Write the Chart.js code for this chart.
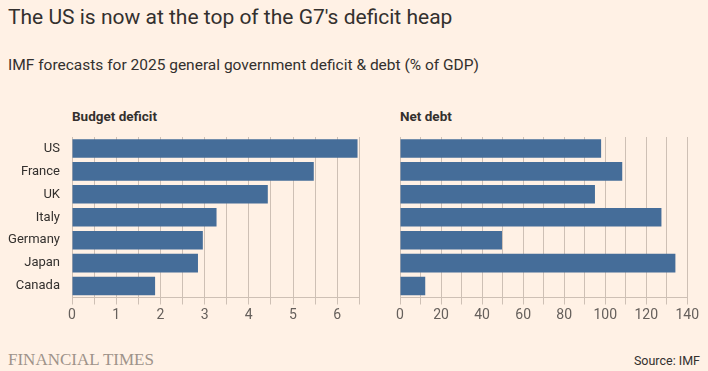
<!DOCTYPE html>
<html>
<head>
<meta charset="utf-8">
<script src="https://cdn.jsdelivr.net/npm/chart.js@4"></script>
<style>
  body { margin: 0; background: #fff1e5; width: 708px; height: 371px; overflow: hidden; position: relative; font-family: Roboto, sans-serif; color: #33302e; }
  .title { position: absolute; left: 8px; top: 5px; font-size: 21px; white-space: nowrap; }
  .sub { position: absolute; left: 8px; top: 56px; font-size: 15.5px; color: #33302e; white-space: nowrap; }
  .panel-title { position: absolute; top: 108px; font-size: 13.5px; font-weight: bold; }
  .ft { position: absolute; left: 8px; top: 350px; font-family: "Liberation Serif", serif; font-size: 17px; color: #9e938a; }
  .src { position: absolute; right: 8px; top: 353px; font-size: 12.5px; color: #33302e; }
  .box { position: absolute; top: 128px; height: 200px; }
</style>
</head>
<body>
<div class="title">The US is now at the top of the G7's deficit heap</div>
<div class="sub">IMF forecasts for 2025 general government deficit &amp; debt (% of GDP)</div>
<div class="panel-title" style="left:72px">Budget deficit</div>
<div class="panel-title" style="left:400px">Net debt</div>
<div class="box" style="left:0;width:370px"><canvas id="deficitChart"></canvas></div>
<div class="box" style="left:390px;width:318px"><canvas id="debtChart"></canvas></div>
<div class="ft">FINANCIAL TIMES</div>
<div class="src">Source: IMF</div>
<script>
// data
const countries = ['US', 'France', 'UK', 'Italy', 'Germany', 'Japan', 'Canada'];
const deficit = [6.46, 5.47, 4.43, 3.27, 2.96, 2.85, 1.88];
const netDebt = [98, 108.3, 95, 127.4, 49.7, 134.2, 12.3];
const deficitTicks = [0, 1, 2, 3, 4, 5, 6];
const debtTicks = [0, 20, 40, 60, 80, 100, 120, 140];

const barColor = '#456d99';
const gridColor = 'rgba(80,66,56,0.28)';
const tickColor = '#66605c';

const makeChart = (ctx, values, step, max, labels, showNames, pad) => {
  return new Chart(ctx, {
    type: 'bar',
    data: {
      labels: countries,
      datasets: [{
        data: values,
        backgroundColor: barColor,
        borderWidth: 0,
        barPercentage: 0.81,
        categoryPercentage: 1
      }]
    },
    options: {
      indexAxis: 'y',
      responsive: true,
      maintainAspectRatio: false,
      animation: false,
      layout: { padding: pad },
      plugins: { legend: { display: false }, tooltip: { enabled: false } },
      scales: {
        x: {
          min: 0,
          max: max,
          z: 1, // grid on top of bars, like the original
          grid: { color: gridColor, tickLength: 7, tickColor: gridColor },
          border: { color: gridColor },
          afterFit: (axis) => { axis.height = 30.5; },
          ticks: {
            stepSize: step,
            padding: 3,
            color: tickColor,
            font: { family: 'Roboto', size: 14 },
            maxRotation: 0,
            autoSkip: false,
            callback: (v) => labels.includes(v) ? String(v) : ''
          }
        },
        y: {
          display: showNames,
          grid: { display: false, drawTicks: false },
          border: { display: false },
          afterFit: (axis) => {
            axis.width = showNames ? 72 : 0;
            axis.paddingTop = 0;
            axis.paddingBottom = 0;
          },
          ticks: {
            padding: 12,
            color: '#33302e',
            font: { family: 'Roboto', size: 13 }
          }
        }
      }
    }
  });
};

const deficitCanvas = document.getElementById('deficitChart').getContext('2d');
const debtCanvas = document.getElementById('debtChart').getContext('2d');

makeChart(deficitCanvas, deficit, 0.5, 6.5, deficitTicks, true, { top: 9, right: 10.7, left: 0, bottom: 0 });
makeChart(debtCanvas, netDebt, 10, 140, debtTicks, false, { top: 9, right: 20.7, left: 10, bottom: 0 });
</script>
</body>
</html>
